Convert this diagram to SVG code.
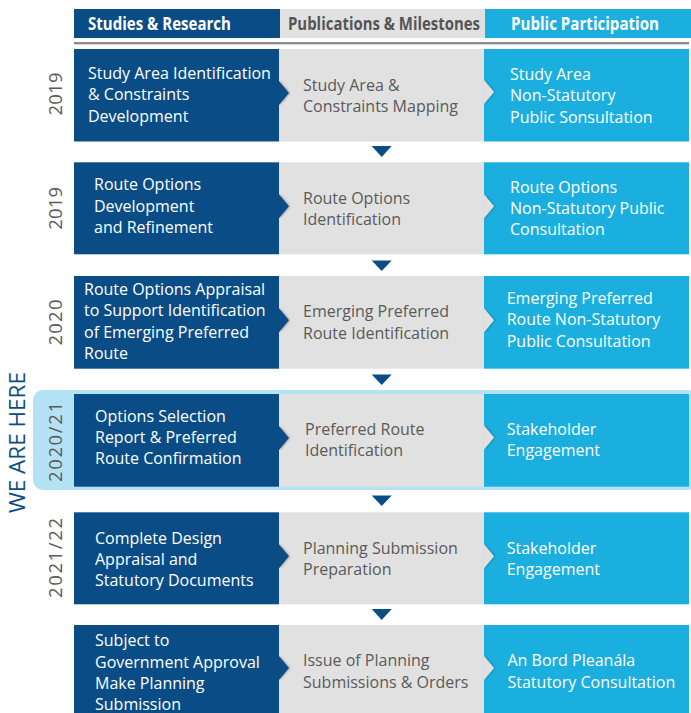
<svg xmlns="http://www.w3.org/2000/svg" width="691" height="713" viewBox="0 0 691 713">
<defs>
<style>
.dk{fill:#0a4d86}
.gr{fill:#e1e1e1}
.bl{fill:#1bafe0}
.t{font-family:"Open Sans","Noto Sans",sans-serif;font-size:16px}
.tw{fill:#ffffff}
.tg{fill:#5a5a5a}
.hd{font-family:"Open Sans","Noto Sans",sans-serif;font-size:17px;font-weight:700}
.yr{font-family:"Open Sans","Noto Sans",sans-serif;font-size:18.5px;fill:#5a5a5a;text-anchor:middle}
.arr{fill:#0a4d86}
</style>
<filter id="sh" x="-50%" y="-50%" width="200%" height="200%">
<feDropShadow dx="1" dy="0" stdDeviation="1" flood-color="#000" flood-opacity="0.3"/>
</filter>
</defs>
<rect width="691" height="713" fill="#ffffff"/>

<g id="header">
<rect x="74" y="9" width="206" height="29" class="dk"/>
<rect x="280" y="9" width="205" height="29" class="gr"/>
<rect x="485" y="9" width="206" height="29" class="bl"/>
<text x="88" y="29.5" class="hd" fill="#ffffff" textLength="143" lengthAdjust="spacingAndGlyphs">Studies &amp; Research</text>
<text x="288" y="29.5" class="hd" fill="#555555" textLength="192" lengthAdjust="spacingAndGlyphs">Publications &amp; Milestones</text>
<text x="511" y="29.5" class="hd" fill="#ffffff" textLength="148" lengthAdjust="spacingAndGlyphs">Public Participation</text>
<rect x="74" y="42" width="615" height="2" fill="#8c8c8c"/>
<rect x="74" y="44" width="615" height="1" fill="#d6d6d6"/>
</g>

<g id="we-are-here">
<rect x="33" y="390" width="665" height="100" rx="10" fill="#b4e2f5"/>
<text transform="translate(25,442.5) rotate(-90)" text-anchor="middle" font-family="'Open Sans','Noto Sans',sans-serif" font-size="21" fill="#0a4d86" textLength="141" lengthAdjust="spacingAndGlyphs">WE ARE HERE</text>
</g>

<g id="row1">
<text class="yr" transform="translate(61.5,94) rotate(-90)" textLength="43">2019</text>
<g id="r1-study">
<rect x="74" y="49" width="205" height="92.5" class="dk"/>
<text class="t tw"><tspan x="88" y="78.5">Study Area Identification</tspan><tspan x="88" y="100">&amp; Constraints</tspan><tspan x="88" y="121.5">Development</tspan></text>
</g>
<g id="r1-pub">
<rect x="279" y="49" width="205" height="92.5" class="gr"/>
<polygon points="279,81 289,93 279,105" class="dk" filter="url(#sh)"/>
<text class="t tg"><tspan x="303" y="90.5">Study Area &amp;</tspan><tspan x="303" y="111.5">Constraints Mapping</tspan></text>
</g>
<g id="r1-part">
<rect x="484" y="49" width="205" height="92.5" class="bl"/>
<polygon points="484,80 494,92 484,104" class="gr" filter="url(#sh)"/>
<text class="t tw"><tspan x="510" y="79.5">Study Area</tspan><tspan x="510" y="101">Non-Statutory</tspan><tspan x="510" y="122.5">Public Sonsultation</tspan></text>
</g>
</g>

<g id="row2">
<text class="yr" transform="translate(61.5,208.3) rotate(-90)" textLength="43">2019</text>
<g id="r2-study">
<rect x="74" y="162.3" width="205" height="92" class="dk"/>
<text class="t tw"><tspan x="94" y="190">Route Options</tspan><tspan x="94" y="211.5">Development</tspan><tspan x="94" y="233">and Refinement</tspan></text>
</g>
<g id="r2-pub">
<rect x="279" y="162.3" width="205" height="92" class="gr"/>
<polygon points="279,194.3 289,206.3 279,218.3" class="dk" filter="url(#sh)"/>
<text class="t tg"><tspan x="303" y="203.5">Route Options</tspan><tspan x="303" y="224.5">Identification</tspan></text>
</g>
<g id="r2-part">
<rect x="484" y="162.3" width="205" height="92" class="bl"/>
<polygon points="484,194.3 494,206.3 484,218.3" class="gr" filter="url(#sh)"/>
<text class="t tw"><tspan x="510" y="192.5">Route Options</tspan><tspan x="510" y="213.5">Non-Statutory Public</tspan><tspan x="510" y="234.5">Consultation</tspan></text>
</g>
</g>

<g id="row3">
<text class="yr" transform="translate(61.5,322.5) rotate(-90)" textLength="46">2020</text>
<g id="r3-study">
<rect x="74" y="276" width="205" height="92.7" class="dk"/>
<text class="t tw"><tspan x="84" y="294.5">Route Options Appraisal</tspan><tspan x="84" y="316">to Support Identification</tspan><tspan x="84" y="337.5">of Emerging Preferred</tspan><tspan x="84" y="358.5">Route</tspan></text>
</g>
<g id="r3-pub">
<rect x="279" y="276" width="205" height="92.7" class="gr"/>
<polygon points="279,308.3 289,320.3 279,332.3" class="dk" filter="url(#sh)"/>
<text class="t tg"><tspan x="303" y="317">Emerging Preferred</tspan><tspan x="303" y="338.5">Route Identification</tspan></text>
</g>
<g id="r3-part">
<rect x="484" y="276" width="205" height="92.7" class="bl"/>
<polygon points="484,308.3 494,320.3 484,332.3" class="gr" filter="url(#sh)"/>
<text class="t tw"><tspan x="506.7" y="303.5">Emerging Preferred</tspan><tspan x="506.7" y="325">Route Non-Statutory</tspan><tspan x="506.7" y="346.5">Public Consultation</tspan></text>
</g>
</g>

<g id="row4">
<text class="yr" transform="translate(61.5,442) rotate(-90)" textLength="80">2020/21</text>
<g id="r4-study">
<rect x="74" y="394" width="205" height="92.7" class="dk"/>
<text class="t tw"><tspan x="95" y="421.7">Options Selection</tspan><tspan x="95" y="443">Report &amp; Preferred</tspan><tspan x="95" y="464.3">Route Confirmation</tspan></text>
</g>
<g id="r4-pub">
<rect x="279" y="394" width="205" height="92.7" class="gr"/>
<polygon points="279,426 289,438 279,450" class="dk" filter="url(#sh)"/>
<text class="t tg"><tspan x="305" y="434.5">Preferred Route</tspan><tspan x="305" y="456">Identification</tspan></text>
</g>
<g id="r4-part">
<rect x="484" y="394" width="205" height="92.7" class="bl"/>
<polygon points="484,425.5 494,437.5 484,449.5" class="gr" filter="url(#sh)"/>
<text class="t tw"><tspan x="506.7" y="434.5">Stakeholder</tspan><tspan x="506.7" y="455.5">Engagement</tspan></text>
</g>
</g>

<g id="row5">
<text class="yr" transform="translate(61.5,558) rotate(-90)" textLength="80">2021/22</text>
<g id="r5-study">
<rect x="74" y="512.3" width="205" height="92" class="dk"/>
<text class="t tw"><tspan x="95" y="543.5">Complete Design</tspan><tspan x="95" y="564.5">Appraisal and</tspan><tspan x="95" y="586">Statutory Documents</tspan></text>
</g>
<g id="r5-pub">
<rect x="279" y="512.3" width="205" height="92" class="gr"/>
<polygon points="279,544.3 289,556.3 279,568.3" class="dk" filter="url(#sh)"/>
<text class="t tg"><tspan x="303" y="553.5">Planning Submission</tspan><tspan x="303" y="574.5">Preparation</tspan></text>
</g>
<g id="r5-part">
<rect x="484" y="512.3" width="205" height="92" class="bl"/>
<polygon points="484,544.3 494,556.3 484,568.3" class="gr" filter="url(#sh)"/>
<text class="t tw"><tspan x="506.7" y="554">Stakeholder</tspan><tspan x="506.7" y="574.5">Engagement</tspan></text>
</g>
</g>

<g id="row6">
<g id="r6-study">
<rect x="74" y="625" width="205" height="92" class="dk"/>
<text class="t tw"><tspan x="95" y="645.7">Subject to</tspan><tspan x="95" y="667.5">Government Approval</tspan><tspan x="95" y="689">Make Planning</tspan><tspan x="95" y="710">Submission</tspan></text>
</g>
<g id="r6-pub">
<rect x="279" y="625" width="205" height="92" class="gr"/>
<polygon points="279,656 289,668 279,680" class="dk" filter="url(#sh)"/>
<text class="t tg"><tspan x="303" y="666">Issue of Planning</tspan><tspan x="303" y="687.7">Submissions &amp; Orders</tspan></text>
</g>
<g id="r6-part">
<rect x="484" y="625" width="205" height="92" class="bl"/>
<polygon points="484,656 494,668 484,680" class="gr" filter="url(#sh)"/>
<text class="t tw"><tspan x="507.5" y="666">An Bord Pleanála</tspan><tspan x="507.5" y="687.7">Statutory Consultation</tspan></text>
</g>
</g>

<g id="connectors">
<polygon points="371.7,146 391.7,146 381.7,157" class="arr"/>
<polygon points="371.7,260.5 391.7,260.5 381.7,271" class="arr"/>
<polygon points="371.7,374.5 391.7,374.5 381.7,385" class="arr"/>
<polygon points="371.7,495.5 391.7,495.5 381.7,506" class="arr"/>
<polygon points="371.7,609 391.7,609 381.7,620" class="arr"/>
</g>
</svg>
